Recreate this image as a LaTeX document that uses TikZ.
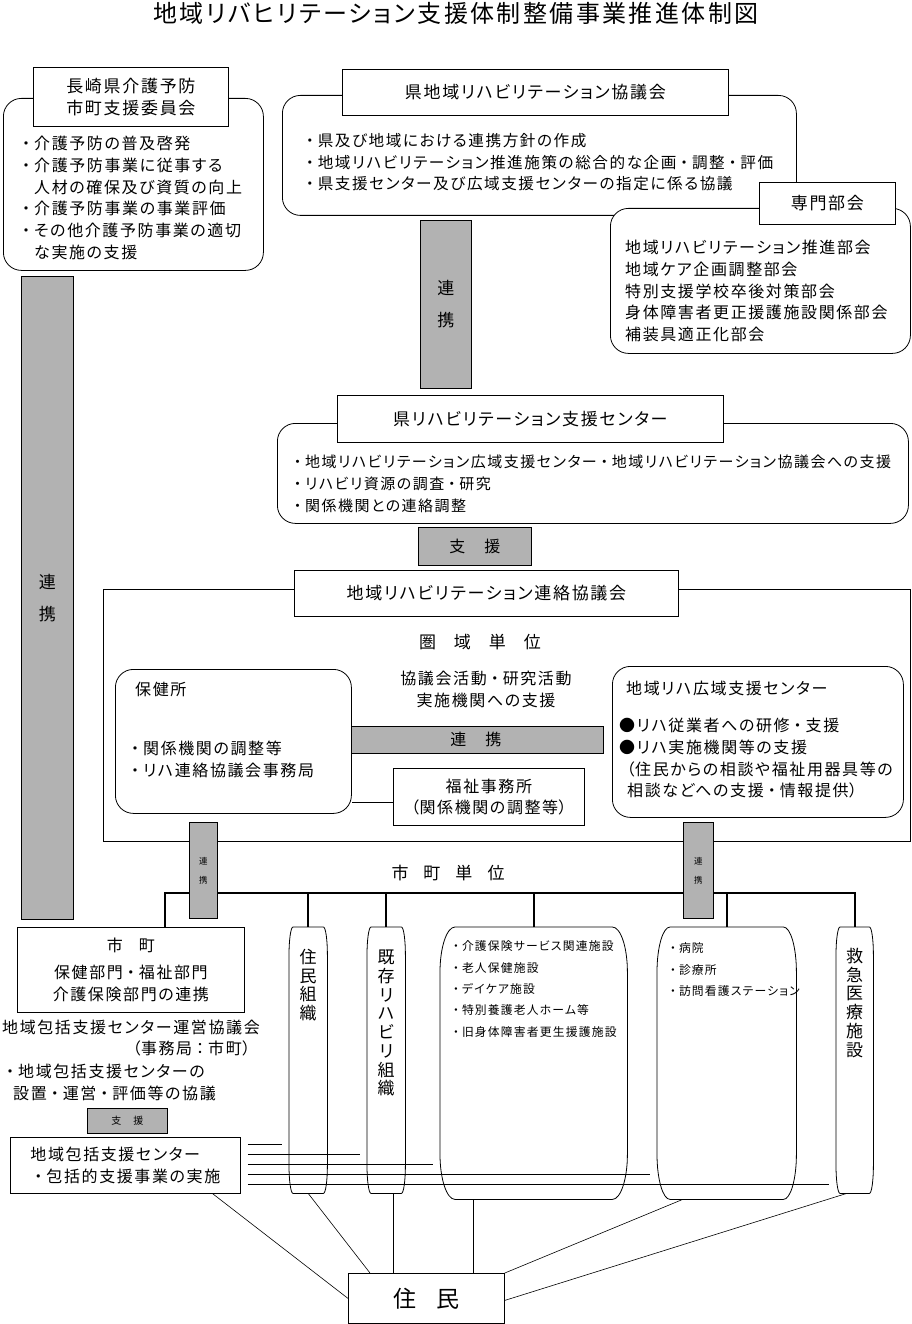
\documentclass[tikz,border=0pt]{standalone}
\usepackage{fontspec}
\setmainfont{Noto Sans CJK JP}[RawFeature=+palt, LetterSpace=10]
\newfontfamily\fwfont{Noto Sans CJK JP}[LetterSpace=10]
\newcommand{\nakaguro}{{\fwfont ・}}
\newcommand{\bulletgap}{\phantom{\nakaguro}}
\newcommand{\bodyfont}{\fontsize{16}{21.7}\selectfont}
\newcommand{\hdrfont}{\fontsize{17}{21.5}\selectfont}
\newcommand{\itemfont}{\fontsize{11.8}{21.4}\selectfont}
\usepackage{tikz}
\usetikzlibrary{positioning,calc}

% outline of a column box with tall rounded corners: node, x radius, y radius
\newcommand{\canbox}[3]{%
  \draw[boxline] ($(#1.north west)+(#2,0)$) -- ($(#1.north east)+(-#2,0)$)
    .. controls ($(#1.north east)+(-0.45*#2,0)$) and ($(#1.north east)+(0,0.45*#3)$) .. ($(#1.north east)+(0,#3)$)
    -- ($(#1.south east)+(0,-#3)$)
    .. controls ($(#1.south east)+(0,-0.45*#3)$) and ($(#1.south east)+(-0.45*#2,0)$) .. ($(#1.south east)+(-#2,0)$)
    -- ($(#1.south west)+(#2,0)$)
    .. controls ($(#1.south west)+(0.45*#2,0)$) and ($(#1.south west)+(0,-0.45*#3)$) .. ($(#1.south west)+(0,-#3)$)
    -- ($(#1.north west)+(0,#3)$)
    .. controls ($(#1.north west)+(0,0.45*#3)$) and ($(#1.north west)+(0.45*#2,0)$) .. cycle;}

\begin{document}
\begin{tikzpicture}[x=1pt, y=-1pt,
    boxline/.style={line width=0.8pt},
    panel/.style={draw, boxline, fill=white, rounded corners=18pt, anchor=north west, inner sep=0pt},
    hdr/.style={draw, boxline, fill=white, anchor=north west, inner sep=0pt, align=center, font=\hdrfont},
    plainbox/.style={draw, boxline, fill=white, anchor=north west, inner sep=0pt, align=center, font=\bodyfont},
    band/.style={draw, boxline, fill=gray!60, anchor=north west, inner sep=0pt, align=center},
    pillar/.style={anchor=north west, inner sep=0pt},
    body/.style={anchor=north west, inner sep=0pt, align=left, font=\bodyfont},
    itemtxt/.style={anchor=north west, inner sep=0pt, align=left, font=\itemfont},
    vtext/.style={inner sep=0pt, align=center, font=\fontsize{17}{18.7}\selectfont},
    bus/.style={line width=1.8pt},
    thin/.style={line width=0.6pt}
]
\useasboundingbox (0,0) rectangle (912,1324);

% Title
\node[font=\fontsize{24}{30}\selectfont] (title) at (456,13) {地域リバヒリテーション支援体制整備事業推進体制図};

% Prefecture committee
\node[panel, minimum width=260, minimum height=172] (yobou) at (3,98) {};
\node[hdr, minimum width=195, minimum height=59] (yobouHdr) at (33,67) {長崎県介護予防\\市町支援委員会};
\node[body] (yobouTxt) at (18,136) {\nakaguro 介護予防の普及啓発\\\nakaguro 介護予防事業に従事する\\\bulletgap 人材の確保及び資質の向上\\\nakaguro 介護予防事業の事業評価\\\nakaguro その他介護予防事業の適切\\\bulletgap な実施の支援};

\node[band, minimum width=52, minimum height=643, font=\fontsize{17}{32}\selectfont] (renkeiL) at (21,276) {連\\携};

% Prefecture council
\node[panel, minimum width=514, minimum height=120] (kyougikai) at (282,95) {};
\node[hdr, minimum width=386, minimum height=46] (kyougikaiHdr) at (342,69) {県地域リハビリテーション協議会};
\node[body, font=\fontsize{15.6}{21.7}\selectfont] (kyougikaiTxt) at (302,133) {\nakaguro 県及び地域における連携方針の作成\\\nakaguro 地域リハビリテーション推進施策の総合的な企画\nakaguro 調整\nakaguro 評価\\\nakaguro 県支援センター及び広域支援センターの指定に係る協議};

% Special sections
\node[panel, minimum width=300, minimum height=145] (senmon) at (610,208) {};
\node[hdr, minimum width=136, minimum height=42] (senmonHdr) at (759,182) {専門部会};
\node[body] (senmonTxt) at (625,240) {地域リハビリテーション推進部会\\地域ケア企画調整部会\\特別支援学校卒後対策部会\\身体障害者更正援護施設関係部会\\補装具適正化部会};

\node[band, minimum width=51, minimum height=168, font=\fontsize{17}{32}\selectfont] (renkeiM) at (420,220) {連\\携};

% Prefecture support center
\node[panel, minimum width=631, minimum height=100] (center) at (277,423) {};
\node[hdr, minimum width=386, minimum height=47] (centerHdr) at (337,395) {県リハビリテーション支援センター};
\node[body, font=\fontsize{15}{21.7}\selectfont] (centerTxt) at (290,455) {\nakaguro 地域リハビリテーション広域支援センター\nakaguro 地域リハビリテーション協議会への支援\\\nakaguro リハビリ資源の調査\nakaguro 研究\\\nakaguro 関係機関との連絡調整};

\node[band, minimum width=113, minimum height=38, font=\bodyfont] (shien) at (418,527) {支　援};

% Regional liaison council
\node[draw, boxline, anchor=north west, minimum width=807, minimum height=252] (renraku) at (103,589) {};
\node[hdr, minimum width=384, minimum height=46] (renrakuHdr) at (294,570) {地域リハビリテーション連絡協議会};
\node[font=\fontsize{17}{20}\selectfont] (kenikiTani) at (480,642) {圏\hspace{18pt}域\hspace{18pt}単\hspace{18pt}位};
\node[body, anchor=north, align=center] (katsudou) at (486,671) {協議会活動\nakaguro 研究活動\\実施機関への支援};
\node[band, minimum width=255, minimum height=27, font=\bodyfont] (renkeiH) at (348,726) {連　携};

\node[panel, minimum width=236, minimum height=144] (hoken) at (115,669) {};
\node[body, anchor=west] (hokenTtl) at (135,689) {保健所};
\node[body] (hokenTxt) at (127,741) {\nakaguro 関係機関の調整等\\\nakaguro リハ連絡協議会事務局};

\node[plainbox, minimum width=191, minimum height=57] (fukushi) at (393,768) {福祉事務所\\{\fwfont （}関係機関の調整等{\fwfont ）}};
\draw[boxline] ([yshift=-5.5pt]fukushi.west) -- ([yshift=-5.5pt]fukushi.west -| hoken.east);

\node[panel, minimum width=291, minimum height=151] (kouiki) at (612,666) {};
\node[body, anchor=west] (kouikiTtl) at (626,688) {地域リハ広域支援センター};
\node[body] (kouikiTxt) at (619,718) {●リハ従業者への研修\nakaguro 支援\\●リハ実施機関等の支援\\{\fwfont （}住民からの相談や福祉用器具等の\\\hspace{8pt}相談などへの支援\nakaguro 情報提供{\fwfont ）}};

% Municipal level
\node[font=\fontsize{17}{20}\selectfont] (shichoTani) at (448,873) {市\hspace{15pt}町\hspace{15pt}単\hspace{15pt}位};
\node[plainbox, minimum width=227, minimum height=85] (shicho) at (17,927) {市\hspace{16pt}町\\[5pt]保健部門\nakaguro 福祉部門\\介護保険部門の連携};

\node[body, anchor=west] (unei) at (2,1027) {地域包括支援センター運営協議会};
\node[body, anchor=east] (jimu) at (258,1048) {{\fwfont （}事務局{\fwfont ：}市町{\fwfont ）}};
\node[body] (uneiTxt) at (2,1064) {\nakaguro 地域包括支援センターの\\\hspace{11pt}設置\nakaguro 運営\nakaguro 評価等の協議};

\node[band, minimum width=80, minimum height=25, font=\fontsize{10}{12}\selectfont] (shienS) at (87,1108) {支　援};
\node[plainbox, minimum width=230, minimum height=56, align=left] (houkatsu) at (10,1137) {地域包括支援センター\\\nakaguro 包括的支援事業の実施};

% Column boxes
\node[pillar, minimum width=38, minimum height=266] (jumin) at (289,927) {};
\node[pillar, minimum width=38, minimum height=266] (kison) at (367,927) {};
\node[pillar, minimum width=187, minimum height=272] (kaigo) at (440,927) {};
\node[pillar, minimum width=139, minimum height=272] (byoin) at (657,927) {};
\node[pillar, minimum width=37, minimum height=266] (kyukyu) at (836,927) {};
\canbox{jumin}{4}{28}
\canbox{kison}{4}{28}
\canbox{kaigo}{15}{45}
\canbox{byoin}{13}{45}
\canbox{kyukyu}{4}{28}

\node[vtext, below=22pt of jumin.north] (juminTxt) {住\\民\\組\\織};
\node[vtext, below=23pt of kison.north] (kisonTxt) {既\\存\\リ\\ハ\\ビ\\リ\\組\\織};
\node[vtext, below=21pt of kyukyu.north] (kyukyuTxt) {救\\急\\医\\療\\施\\設};
\node[itemtxt] (kaigoTxt) at (450,940.5) {\nakaguro 介護保険サービス関連施設\\\nakaguro 老人保健施設\\\nakaguro デイケア施設\\\nakaguro 特別養護老人ホーム等\\\nakaguro 旧身体障害者更生援護施設};
\node[itemtxt] (byoinTxt) at (667,942.5) {\nakaguro 病院\\\nakaguro 診療所\\\nakaguro 訪問看護ステーション};

% Municipal bus
\coordinate (busL) at (0,893);
\draw[bus] ([xshift=34pt]shicho.north) |- (kyukyu.north |- busL) -- (kyukyu.north);
\foreach \n in {jumin,kison,kaigo,byoin}
  \draw[bus] (\n.north) -- (\n.north |- busL);

\node[band, minimum width=28, minimum height=96, font=\fontsize{8.5}{19}\selectfont] (renkeiS1) at (189,822) {連\\携};
\node[band, minimum width=30, minimum height=96, font=\fontsize{8.5}{19}\selectfont] (renkeiS2) at (683,822) {連\\携};

% Lines from the comprehensive support center
\foreach \n/\dy in {jumin/21, kison/11, kaigo/1, byoin/-9, kyukyu/-19}
  \draw[bus] ([xshift=7pt,yshift=\dy pt]houkatsu.east) -- ([xshift=-7pt,yshift=\dy pt]houkatsu.east -| \n.west);

% Residents
\node[plainbox, minimum width=156, minimum height=50, font=\fontsize{23}{26}\selectfont] (jm) at (348,1273) {住\hspace{20pt}民};
\draw[thin] ([xshift=-28pt]houkatsu.south east) -- (jm.west);
\draw[thin] (jumin.south) -- ([xshift=22pt]jm.north west);
\draw[thin] ([xshift=7pt]kison.south) -- ([xshift=7pt]kison.south |- jm.north);
\draw[thin] ([xshift=-60pt]kaigo.south) -- ([xshift=-60pt]kaigo.south |- jm.north);
\draw[thin] ([xshift=-44pt]byoin.south) -- (jm.north east);
\draw[thin] ([xshift=-8pt]kyukyu.south) -- ([yshift=-2pt]jm.east);

\end{tikzpicture}
\end{document}
